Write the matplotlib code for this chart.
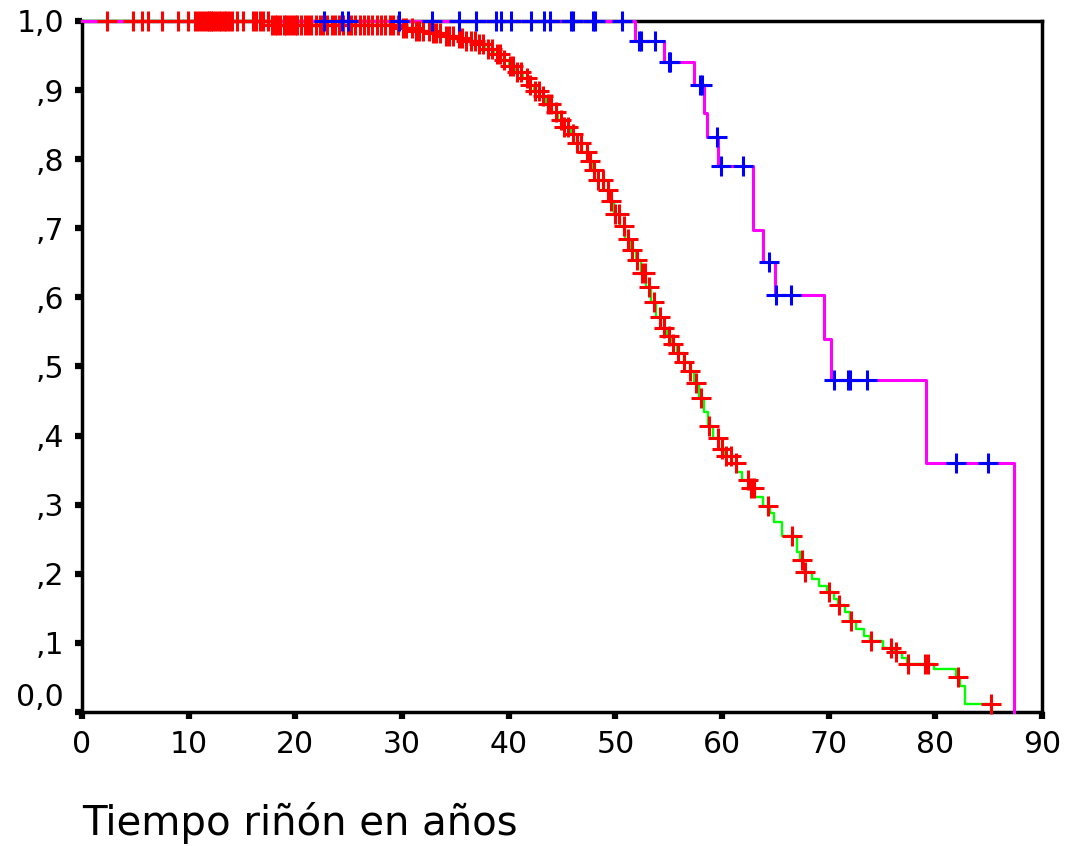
import numpy as np
import matplotlib
matplotlib.use("Agg")
import matplotlib.pyplot as plt

# group 1: green survival curve, red censor marks
g1_times = [0, 17.5, 29.8, 31.2, 32.6, 33.8, 34.9, 35.9, 36.9, 37.8, 38.6, 39.3,
            40.0, 40.7, 41.3, 41.9, 42.4, 42.9, 43.5, 44.1, 44.6, 45.2, 45.8, 46.4,
            46.9, 47.4, 47.9, 48.4, 48.9, 49.4, 49.9, 50.4, 50.9, 51.4, 51.9, 52.4,
            52.9, 53.3, 53.8, 54.3, 54.8, 55.3, 55.8, 56.4, 57.0, 57.4, 57.8, 58.3,
            58.7, 59.2, 59.7, 60.3, 60.9, 61.4, 61.9, 62.5, 63.1, 63.8, 64.5, 64.9,
            65.6, 67.0, 67.3, 67.7, 68.4, 69.1, 69.8, 70.5, 70.9, 71.5, 72.0, 72.6,
            73.3, 73.9, 75.1, 76.1, 76.9, 77.3, 79.9, 81.9, 82.3, 82.8]
g1_surv = [1.0, 0.994, 0.990, 0.986, 0.983, 0.979, 0.975, 0.971, 0.966, 0.960, 0.952, 0.944,
           0.935, 0.926, 0.917, 0.908, 0.899, 0.891, 0.880, 0.868, 0.857, 0.847, 0.836, 0.824,
           0.811, 0.798, 0.784, 0.770, 0.755, 0.739, 0.721, 0.703, 0.685, 0.669, 0.654, 0.636,
           0.615, 0.594, 0.572, 0.556, 0.544, 0.533, 0.520, 0.507, 0.493, 0.476, 0.455, 0.434,
           0.414, 0.396, 0.380, 0.370, 0.360, 0.348, 0.336, 0.324, 0.311, 0.298, 0.288, 0.275,
           0.254, 0.232, 0.220, 0.203, 0.192, 0.182, 0.173, 0.163, 0.155, 0.145, 0.132, 0.120,
           0.110, 0.103, 0.092, 0.087, 0.078, 0.069, 0.062, 0.051, 0.037, 0.012]
g1_end = 85.2
g1_censored = [2.3, 4.8, 5.6, 6.2, 7.5, 9.0, 9.9, 10.6, 10.9, 11.2, 11.4, 11.7, 11.9, 12.1,
               12.3, 12.6, 12.8, 13.0, 13.3, 13.5, 13.8, 14.1, 14.5, 15.1, 16.0, 16.3, 16.7,
               17.0, 17.4, 17.8, 18.1, 18.3, 18.6, 18.9, 19.1, 19.4, 19.7, 20.0, 20.2, 20.5,
               20.9, 21.2, 21.5, 21.9, 22.3, 22.6, 23.0, 23.4, 23.7, 24.1, 24.5, 24.9, 25.2,
               25.6, 26.1, 26.4, 26.8, 27.2, 27.7, 28.0, 28.4, 28.9, 29.2, 29.6, 30.1, 30.4,
               30.9, 31.3, 31.6, 32.0, 32.5, 32.9, 33.2, 33.6, 34.1, 34.4, 34.8, 35.3, 35.6,
               36.0, 36.5, 36.8, 37.2, 37.6, 38.1, 38.4, 38.9, 39.2, 39.6, 40.1, 40.4, 40.8,
               41.2, 41.7, 42.0, 42.5, 42.8, 43.2, 43.7, 44.0, 44.4, 44.9, 45.2, 45.6, 46.0,
               46.4, 46.8, 47.3, 47.6, 48.0, 48.4, 48.8, 49.3, 49.6, 50.0, 50.3, 50.8, 51.2,
               51.6, 52.0, 52.5, 52.8, 53.2, 53.6, 54.2, 54.6, 55.0, 55.4, 55.9, 56.4, 57.0,
               57.6, 58.0, 58.8, 59.6, 60.0, 60.4, 60.8, 61.3, 62.4, 62.7, 63.0, 64.3, 66.6,
               67.5, 67.8, 70.0, 71.0, 72.1, 74.0, 75.8, 76.3, 77.4, 79.0, 79.3, 82.1, 85.2]

# group 2: magenta survival curve, blue censor marks
g2_times = [0, 51.8, 54.6, 57.4, 58.3, 58.6, 59.6, 62.9, 63.8, 65.0, 69.6, 70.2, 79.1, 87.4]
g2_surv = [1.0, 0.971, 0.941, 0.908, 0.867, 0.832, 0.790, 0.698, 0.651, 0.603, 0.540,
           0.481, 0.360, 0.0]
g2_end = 87.4
g2_censored = [22.7, 24.4, 24.9, 29.7, 32.8, 35.3, 36.9, 38.8, 39.3, 40.2, 42.1, 43.3,
               43.9, 45.8, 46.0, 47.9, 48.1, 50.6, 52.2, 52.4, 53.7, 55.0, 55.1, 57.9,
               58.1, 59.5, 59.9, 62.0, 64.4, 65.1, 66.5, 70.5, 71.8, 72.0, 73.6, 81.9, 84.9]

x_ticks = [0, 10, 20, 30, 40, 50, 60, 70, 80, 90]
y_ticks = [0.0, 0.1, 0.2, 0.3, 0.4, 0.5, 0.6, 0.7, 0.8, 0.9, 1.0]
y_tick_labels = ["0,0", ",1", ",2", ",3", ",4", ",5", ",6", ",7", ",8", ",9", "1,0"]
x_label = "Tiempo riñón en años"


def surv_at(times, surv, t):
    idx = np.searchsorted(times, t, side="right") - 1
    return np.asarray(surv)[idx]


fig = plt.figure(figsize=(10.72, 8.46), dpi=100)
ax = fig.add_axes([82 / 1072, 134 / 846, 960 / 1072, 691 / 846])

curves = [
    (g1_times, g1_surv, g1_end, g1_censored, "#00ff00", 1.7, "#ff0000"),
    (g2_times, g2_surv, g2_end, g2_censored, "#ff00ff", 2.2, "#0000ff"),
]
for k, (times, surv, end, cens, lc, lw, mc) in enumerate(curves):
    xs = list(times) + [end]
    ys = list(surv) + [surv[-1]]
    ax.step(xs, ys, where="post", color=lc, lw=lw, clip_on=False, zorder=3 + k)
for k, (times, surv, end, cens, lc, lw, mc) in enumerate(curves):
    cy = surv_at(times, surv, cens)
    ax.plot(cens, cy, ls="none", marker="+", ms=14, mew=2.2, color=mc,
            clip_on=False, zorder=6 + k)

ax.set_xlim(0, 90)
ax.set_ylim(0, 1.0)
ax.set_xticks(x_ticks)
ax.set_yticks(y_ticks)
ax.set_yticklabels(y_tick_labels)
for s in ax.spines.values():
    s.set_linewidth(2.5)
    s.set_color("black")
    s.set_zorder(2)
ax.tick_params(direction="out", length=5, width=4.5, labelsize=21.5, pad=8,
               colors="black")
ax.get_yticklabels()[0].set_verticalalignment("bottom")

ax.set_xlabel(x_label, loc="left", fontsize=29)
ax.xaxis.set_label_coords(0.0, -0.13)

fig.savefig("out.png", dpi=100)
